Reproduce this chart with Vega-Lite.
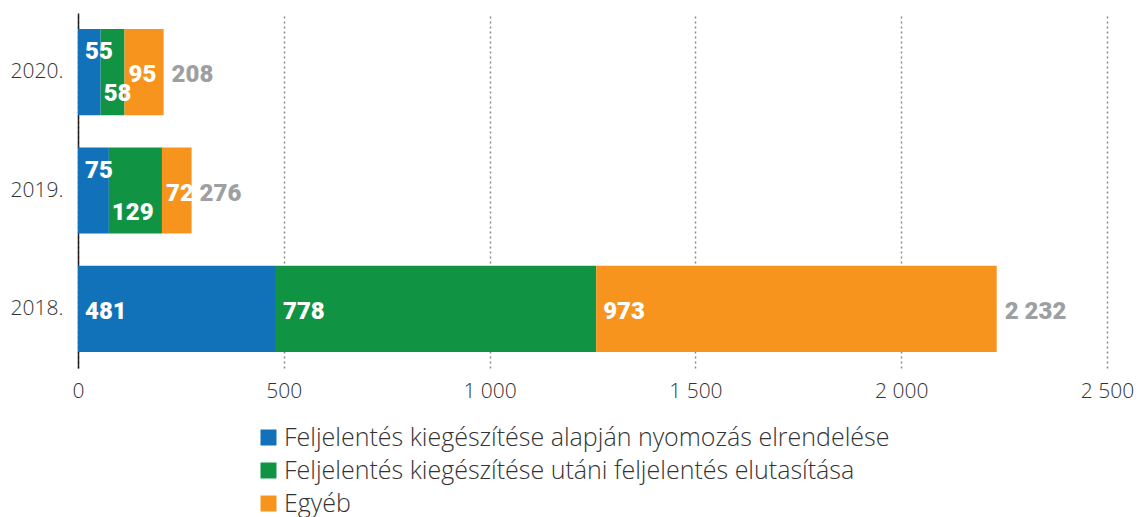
{
  "$schema": "https://vega.github.io/schema/vega-lite/v6.json",
  "width": 1029,
  "height": 355,
  "autosize": {"type": "none"},
  "padding": {"left": 78, "top": 13, "right": 33, "bottom": 149},
  "config": {
    "view": {"stroke": null},
    "locale": {"number": {"decimal": ",", "thousands": " ", "grouping": [3], "currency": ["", ""]}}
  },
  "data": {
    "values": [
      {"year": "2020.", "series": "Feljelentés kiegészítése alapján nyomozás elrendelése", "i": 1, "value": 55},
      {"year": "2020.", "series": "Feljelentés kiegészítése utáni feljelentés elutasítása", "i": 2, "value": 58},
      {"year": "2020.", "series": "Egyéb", "i": 3, "value": 95},
      {"year": "2019.", "series": "Feljelentés kiegészítése alapján nyomozás elrendelése", "i": 1, "value": 75},
      {"year": "2019.", "series": "Feljelentés kiegészítése utáni feljelentés elutasítása", "i": 2, "value": 129},
      {"year": "2019.", "series": "Egyéb", "i": 3, "value": 72},
      {"year": "2018.", "series": "Feljelentés kiegészítése alapján nyomozás elrendelése", "i": 1, "value": 481},
      {"year": "2018.", "series": "Feljelentés kiegészítése utáni feljelentés elutasítása", "i": 2, "value": 778},
      {"year": "2018.", "series": "Egyéb", "i": 3, "value": 973}
    ]
  },
  "transform": [
    {"stack": "value", "groupby": ["year"], "sort": [{"field": "i", "order": "ascending"}], "as": ["x0", "x1"]}
  ],
  "encoding": {
    "y": {
      "field": "year", "type": "nominal", "title": null,
      "sort": ["2020.", "2019.", "2018."],
      "scale": {"paddingInner": 0.271, "paddingOuter": 0.136},
      "axis": {
        "domain": true, "domainColor": "#231f20", "domainWidth": 1.5,
        "ticks": false, "labelFontSize": 21, "labelFont": "Open Sans, Lato, sans-serif",
        "labelFontWeight": 300, "labelColor": "#333333", "labelPadding": 15
      }
    }
  },
  "layer": [
    {
      "mark": {"type": "bar"},
      "encoding": {
        "x": {
          "field": "x0", "type": "quantitative", "title": null,
          "scale": {"domain": [0, 2500], "nice": false},
          "axis": {
            "values": [0, 500, 1000, 1500, 2000, 2500], "format": ",d",
            "grid": true, "gridDash": [2, 3], "gridColor": "#8a8a8a", "gridWidth": 1.5,
            "domain": false, "ticks": false, "labelFontSize": 21, "labelFlush": false,
            "labelFont": "Open Sans, Lato, sans-serif", "labelFontWeight": 300,
            "labelColor": "#333333", "labelPadding": 12
          }
        },
        "x2": {"field": "x1"},
        "color": {
          "field": "series", "type": "nominal", "title": null,
          "scale": {
            "domain": ["Feljelentés kiegészítése alapján nyomozás elrendelése", "Feljelentés kiegészítése utáni feljelentés elutasítása", "Egyéb"],
            "range": ["#1172ba", "#109444", "#f7941d"]
          },
          "legend": {
            "orient": "none", "legendX": 178, "legendY": 412, "direction": "vertical",
            "padding": 0, "symbolType": "square", "symbolSize": 256, "symbolStrokeWidth": 0,
            "labelFontSize": 25, "labelFont": "Open Sans, Lato, sans-serif", "labelFontWeight": 300,
            "labelColor": "#333333", "labelLimit": 0, "labelOffset": 3, "rowPadding": 7,
            "encode": {
              "symbols": {
                "update": {
                  "fill": {"signal": "datum.value == 'Egyéb' ? '#fbb040' : scale('color', datum.value)"}
                }
              }
            }
          }
        }
      }
    },
    {
      "transform": [{"filter": "datum.year == '2018.'"}],
      "mark": {"type": "text", "align": "left", "baseline": "middle", "dx": 7, "dy": 3, "fontSize": 24, "fontWeight": 900, "font": "Roboto, sans-serif", "color": "white"},
      "encoding": {"x": {"field": "x0", "type": "quantitative", "title": null}, "text": {"field": "value", "type": "quantitative"}}
    },
    {
      "transform": [{"filter": "datum.year != '2018.' && datum.i == 3"}],
      "mark": {"type": "text", "align": "left", "baseline": "middle", "dx": 4, "dy": 3, "fontSize": 24, "fontWeight": 900, "font": "Roboto, sans-serif", "color": "white"},
      "encoding": {"x": {"field": "x0", "type": "quantitative", "title": null}, "text": {"field": "value", "type": "quantitative"}}
    },
    {
      "transform": [{"filter": "datum.year != '2018.' && datum.i == 1"}],
      "mark": {"type": "text", "align": "left", "baseline": "middle", "dx": 7, "dy": -20, "fontSize": 24, "fontWeight": 900, "font": "Roboto, sans-serif", "color": "white"},
      "encoding": {"x": {"field": "x0", "type": "quantitative", "title": null}, "text": {"field": "value", "type": "quantitative"}}
    },
    {
      "transform": [{"filter": "datum.year != '2018.' && datum.i == 2"}],
      "mark": {"type": "text", "align": "left", "baseline": "middle", "dx": 3, "dy": 22, "fontSize": 24, "fontWeight": 900, "font": "Roboto, sans-serif", "color": "white"},
      "encoding": {"x": {"field": "x0", "type": "quantitative", "title": null}, "text": {"field": "value", "type": "quantitative"}}
    },
    {
      "mark": {"type": "text", "align": "left", "baseline": "middle", "dx": 8, "dy": 3, "fontSize": 24, "fontWeight": 900, "font": "Roboto, sans-serif", "color": "#9d9fa2"},
      "encoding": {
        "x": {"aggregate": "sum", "field": "value", "type": "quantitative", "title": null},
        "text": {"aggregate": "sum", "field": "value", "type": "quantitative", "format": ",d"}
      }
    }
  ]
}
